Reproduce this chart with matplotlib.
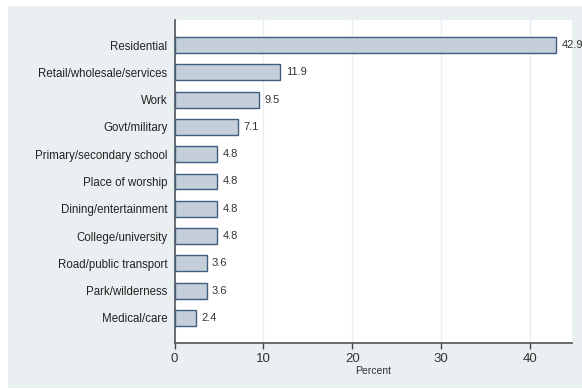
import matplotlib
matplotlib.use("Agg")
import matplotlib.pyplot as plt
from matplotlib.patches import Rectangle

categories = ["Residential", "Retail/wholesale/services", "Work", "Govt/military",
              "Primary/secondary school", "Place of worship", "Dining/entertainment",
              "College/university", "Road/public transport", "Park/wilderness", "Medical/care"]
values = [42.9, 11.9, 9.5, 7.1, 4.8, 4.8, 4.8, 4.8, 3.6, 3.6, 2.4]
xticks = [0, 10, 20, 30, 40]

plt.rcParams["font.family"] = ["Liberation Sans", "DejaVu Sans"]

W, H = 582, 389
fig = plt.figure(figsize=(W / 100, H / 100), dpi=100)
fig.patch.set_facecolor("white")

# light panel behind the plot region
fig.patches.append(Rectangle((8 / W, 1 - 388 / H), (W - 8) / W, (388 - 6) / H,
                             transform=fig.transFigure, facecolor="#eaf0f2",
                             edgecolor="none", zorder=-5))

left, right, top, bottom = 174.5, 572, 20, 343
ax = fig.add_axes([left / W, 1 - bottom / H, (right - left) / W, (bottom - top) / H])
ax.set_facecolor("white")

y = list(range(len(categories)))
ax.barh(y, values, height=0.58, color="#c5cfda", edgecolor="#3f5d7e", linewidth=1.0, zorder=3)
for yi, v in zip(y, values):
    ax.text(v + 0.6, yi, f"{v:.1f}", va="center", ha="left", fontsize=8,
            color="#333333", clip_on=False, zorder=4)

ax.set_ylim(len(categories) - 1 + 0.92, -0.92)
ax.set_xlim(0, 44.7)
ax.set_yticks(y)
ax.set_yticklabels(categories, fontsize=8.3, color="#222222")
ax.tick_params(axis="y", length=0, pad=5)
ax.set_xticks(xticks)
ax.set_xticklabels([str(t) for t in xticks], fontsize=9.5, color="#333333")
ax.tick_params(axis="x", length=4, width=1, color="#444444", pad=3)
ax.xaxis.grid(True, color="#e8eff1", linewidth=1.0, zorder=0)
ax.set_axisbelow(True)
for s in ["top", "right"]:
    ax.spines[s].set_visible(False)
for s in ["left", "bottom"]:
    ax.spines[s].set_color("#555555")
    ax.spines[s].set_linewidth(1.2)
ax.set_xlabel("Percent", fontsize=7.5, color="#333333", labelpad=1)

fig.savefig("out.png", dpi=100)
